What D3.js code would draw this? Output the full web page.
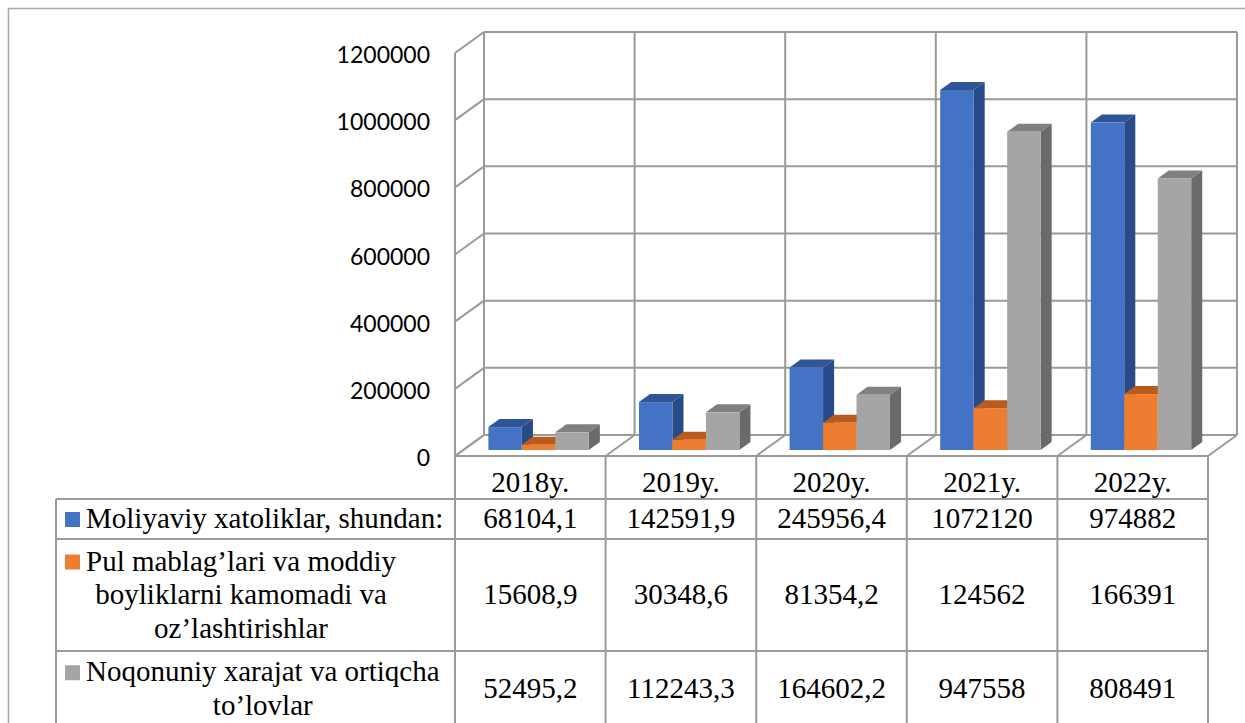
<!DOCTYPE html>
<html><head><meta charset="utf-8">
<script src="https://cdn.jsdelivr.net/npm/d3@7"></script>
<style>html,body{margin:0;padding:0;background:#fff;}svg{display:block;}</style>
</head><body>
<svg id="chart" width="1245" height="723"></svg>
<script>
const years = ["2018y.", "2019y.", "2020y.", "2021y.", "2022y."];
const seriesNames = [
  ["Moliyaviy xatoliklar, shundan:"],
  ["Pul mablag\u2019lari va moddiy", "boyliklarni kamomadi va", "oz\u2019lashtirishlar"],
  ["Noqonuniy xarajat va ortiqcha", "to\u2019lovlar"]
];
const moliyaviy = [68104.1, 142591.9, 245956.4, 1072120, 974882];
const kamomad = [15608.9, 30348.6, 81354.2, 124562, 166391];
const noqonuniy = [52495.2, 112243.3, 164602.2, 947558, 808491];
const yTicks = [0, 200000, 400000, 600000, 800000, 1000000, 1200000];
const seriesValues = [moliyaviy, kamomad, noqonuniy];
const seriesKeys = ["s0", "s1", "s2"];
const colors = [
  {front: "#4472C4", top: "#2F5597", side: "#284A86"},
  {front: "#ED7D31", top: "#B75C1C", side: "#A8551B"},
  {front: "#A5A5A5", top: "#808080", side: "#6A6A6A"}
];

const svg = d3.select("#chart");
const gridColor = "#9a9a9a";

// outer frame
svg.append("rect").attr("x", 8.5).attr("y", 8.5).attr("width", 1300).attr("height", 800)
  .attr("fill", "none").attr("stroke", "#a8a8a8").attr("stroke-width", 1.5);

// 3D geometry
const plotLeft = 455, plotRight = 1208, floorY = 456;
const depthX = 29, depthY = -21;
const x0 = d3.scaleBand().domain(years).range([plotLeft, plotRight]).padding(0);
const x1 = d3.scaleBand().domain(seriesKeys).range([0, x0.bandwidth()]).paddingInner(0).paddingOuter(0.75);
const yH = d3.scaleLinear().domain([0, 1200000]).range([0, 403]);

const walls = svg.append("g").attr("fill", "none").attr("stroke", gridColor).attr("stroke-width", 2);
// back wall gridlines
yTicks.forEach(t => {
  const yb = floorY + depthY - yH(t);
  walls.append("line").attr("x1", plotLeft + depthX).attr("x2", plotRight + depthX).attr("y1", yb).attr("y2", yb);
  // side wall diagonals
  walls.append("line").attr("x1", plotLeft).attr("y1", floorY - yH(t))
    .attr("x2", plotLeft + depthX).attr("y2", yb);
});
// back wall verticals
const bounds = years.map(y => x0(y)).concat([plotRight]);
bounds.forEach(bx => {
  walls.append("line").attr("x1", bx + depthX).attr("x2", bx + depthX)
    .attr("y1", floorY + depthY).attr("y2", floorY + depthY - yH(1200000));
  // floor diagonals
  walls.append("line").attr("x1", bx).attr("y1", floorY).attr("x2", bx + depthX).attr("y2", floorY + depthY);
});
// side wall front vertical
walls.append("line").attr("x1", plotLeft).attr("x2", plotLeft).attr("y1", floorY).attr("y2", floorY - yH(1200000));
// floor front line
walls.append("line").attr("x1", plotLeft).attr("x2", plotRight).attr("y1", floorY).attr("y2", floorY);

// axis labels
svg.append("g").selectAll("text").data(yTicks).join("text")
  .attr("x", 430).attr("y", d => floorY - yH(d) + 10)
  .attr("text-anchor", "end").attr("font-family", "Lato, 'Open Sans', sans-serif")
  .attr("font-size", 23).attr("fill", "#000").text(d => d3.format("d")(d));

// bars
const dFront = 0.286, dBack = 0.667;
const bx0 = dFront * depthX, by0 = dFront * depthY;
const ddx = (dBack - dFront) * depthX, ddy = (dBack - dFront) * depthY;
const barsG = svg.append("g");
years.forEach((yr, i) => {
  seriesValues.forEach((vals, s) => {
    const v = vals[i];
    const xl = x0(yr) + x1(seriesKeys[s]) + bx0;
    const w = x1.bandwidth();
    const yb = floorY + by0;
    const yt = yb - yH(v);
    const c = colors[s];
    // side
    barsG.append("path").attr("fill", c.side)
      .attr("d", `M${xl + w},${yb} L${xl + w + ddx},${yb + ddy} L${xl + w + ddx},${yt + ddy} L${xl + w},${yt} Z`);
    // top
    barsG.append("path").attr("fill", c.top)
      .attr("d", `M${xl},${yt} L${xl + ddx},${yt + ddy} L${xl + w + ddx},${yt + ddy} L${xl + w},${yt} Z`);
    // front
    barsG.append("rect").attr("fill", c.front).attr("x", xl).attr("y", yt).attr("width", w).attr("height", yb - yt);
  });
});

// data table
const tableLeft = 56;
const rowTops = [499, 539, 651, 727];
const serif = "'Liberation Serif', 'Times New Roman', serif";
const fs = 29;
const tg = svg.append("g");
const tl = tg.append("g").attr("stroke", gridColor).attr("stroke-width", 2);
rowTops.forEach(ry => tl.append("line").attr("x1", tableLeft).attr("x2", plotRight).attr("y1", ry).attr("y2", ry));
tl.append("line").attr("x1", tableLeft).attr("x2", tableLeft).attr("y1", rowTops[0]).attr("y2", 740);
bounds.forEach(bx => tl.append("line").attr("x1", bx).attr("x2", bx).attr("y1", floorY).attr("y2", 740));

// year headers
tg.selectAll("text.yr").data(years).join("text").attr("class", "yr")
  .attr("x", d => x0(d) + x0.bandwidth() / 2).attr("y", 492)
  .attr("text-anchor", "middle").attr("font-family", serif).attr("font-size", fs).text(d => d);

const fmt = v => String(v).replace(".", ",");
const lineH = 33.5;
seriesNames.forEach((lines, s) => {
  const top = rowTops[s], bot = rowTops[s + 1];
  const mid = (top + bot) / 2;
  const firstBase = mid - (lines.length - 1) * lineH / 2 + 9;
  const texts = lines.map((ln, k) => tg.append("text").attr("font-family", serif).attr("font-size", fs)
    .attr("y", firstBase + k * lineH).attr("text-anchor", "middle").text(ln));
  const maxW = d3.max(texts, t => t.node().getComputedTextLength());
  const cx = 86 + maxW / 2;
  texts.forEach(t => t.attr("x", cx));
  const w0 = texts[0].node().getComputedTextLength();
  tg.append("rect").attr("x", cx - w0 / 2 - 21).attr("y", firstBase - 16).attr("width", 15).attr("height", 15)
    .attr("fill", colors[s].front);
  // values
  tg.selectAll(null).data(seriesValues[s]).join("text")
    .attr("x", (d, i) => x0(years[i]) + x0.bandwidth() / 2).attr("y", mid + 9)
    .attr("text-anchor", "middle").attr("font-family", serif).attr("font-size", fs).text(d => fmt(d));
});
</script>
</body></html>
